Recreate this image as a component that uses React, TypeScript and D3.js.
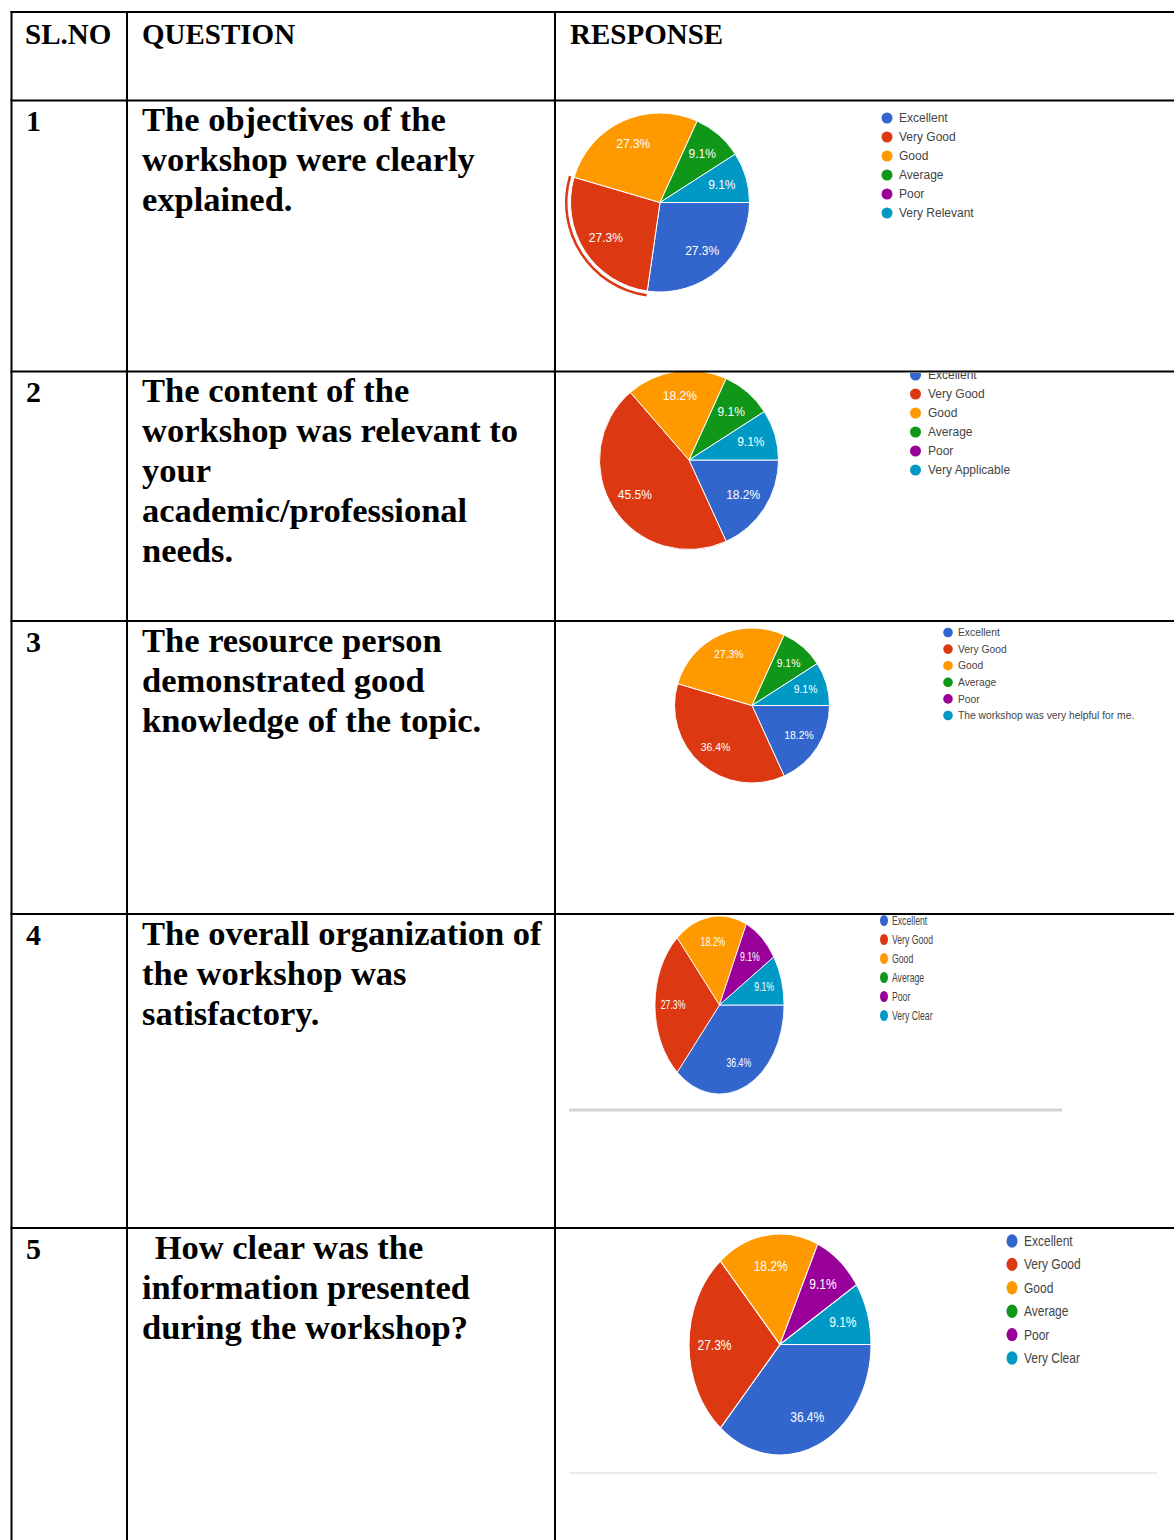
import React from 'react';
import * as d3 from 'd3';

// Table text
const headers = ['SL.NO', 'QUESTION', 'RESPONSE'];
const serialNumbers = ['1', '2', '3', '4', '5'];
const questionLines = [
  ['The objectives of the', 'workshop were clearly', 'explained.'],
  ['The content of the', 'workshop was relevant to', 'your', 'academic/professional', 'needs.'],
  ['The resource person', 'demonstrated good', 'knowledge of the topic.'],
  ['The overall organization of', 'the workshop was', 'satisfactory.'],
  [' How clear was the', 'information presented', 'during the workshop?'],
];

// Pie data (percent of responses)
const ratingCategories = ['Excellent', 'Very Good', 'Good', 'Average', 'Poor'];
const lastCategories = [
  'Very Relevant',
  'Very Applicable',
  'The workshop was very helpful for me.',
  'Very Clear',
  'Very Clear',
];
const q1Values = [27.3, 27.3, 27.3, 9.1, 0, 9.1];
const q2Values = [18.2, 45.5, 18.2, 9.1, 0, 9.1];
const q3Values = [18.2, 36.4, 27.3, 9.1, 0, 9.1];
const q4Values = [36.4, 27.3, 18.2, 0, 9.1, 9.1];
const q5Values = [36.4, 27.3, 18.2, 0, 9.1, 9.1];
const allValues = [q1Values, q2Values, q3Values, q4Values, q5Values];

const sliceColors = ['#3366cc', '#dc3912', '#ff9900', '#109618', '#990099', '#0099c6'];

// Layout
const W = 1174;
const H = 1540;
const colX = [11.5, 127, 555];
const rowY = [12, 100.5, 371.5, 621, 914, 1228];
const textBaselines = [131, 402, 652, 945, 1259];

const pieLayouts = [
  { cx: 660, cy: 202.5, r: 89.5, sx: 1, sy: 1, font: 12, lx: 887, ly: 118, step: 19, dotR: 5.5, gap: 12, lfont: 12, highlight: 1 },
  { cx: 689, cy: 460, r: 89.5, sx: 1, sy: 1, font: 12, lx: 915.5, ly: 375, step: 19, dotR: 5.5, gap: 12.5, lfont: 12, highlight: -1 },
  { cx: 752, cy: 705.5, r: 77.5, sx: 1, sy: 1, font: 10.4, lx: 948, ly: 632.5, step: 16.6, dotR: 4.8, gap: 10, lfont: 10.3, highlight: -1 },
  { cx: 719.5, cy: 1005, r: 89, sx: 0.725, sy: 1, font: 12, lx: 884, ly: 920.5, step: 19, dotR: 5.5, gap: 11, lfont: 12, highlight: -1 },
  { cx: 780, cy: 1344.5, r: 91, sx: 1, sy: 1.214, font: 12, lx: 1012, ly: 1241, step: 23.4, dotR: 5.5, gap: 12, lfont: 12, highlight: -1 },
];

const serif = '"Liberation Serif", "Times New Roman", serif';
const sans = '"Liberation Sans", Arial, sans-serif';

function PieChart({ values, index }: { values: number[]; index: number }) {
  const L = pieLayouts[index];
  const pie = d3
    .pie<number>()
    .sort(null)
    .value((d) => d)
    .startAngle(Math.PI / 2)
    .endAngle(Math.PI / 2 + Math.PI * 2);
  const arcs = pie(values);
  const arc = d3.arc<d3.PieArcDatum<number>>().innerRadius(0).outerRadius(L.r);
  const labelArc = d3
    .arc<d3.PieArcDatum<number>>()
    .innerRadius(L.r * 0.72)
    .outerRadius(L.r * 0.72);
  const ringArc = d3
    .arc<d3.PieArcDatum<number>>()
    .innerRadius(L.r + 3)
    .outerRadius(L.r + 5.5);
  const labels = [...ratingCategories, lastCategories[index]];
  const legendStep = L.step / L.sy;

  return (
    <g>
      <g transform={`translate(${L.cx},${L.cy}) scale(${L.sx},${L.sy})`}>
        {arcs.map((a, i) =>
          a.data > 0 ? (
            <path key={i} d={arc(a) || ''} fill={sliceColors[i]} stroke="#fff" strokeWidth={1} />
          ) : null
        )}
        {L.highlight >= 0 && (
          <path d={ringArc(arcs[L.highlight]) || ''} fill={sliceColors[L.highlight]} />
        )}
        {arcs.map((a, i) => {
          if (a.data <= 0) return null;
          const [x, y] = labelArc.centroid(a);
          return (
            <text
              key={i}
              x={x}
              y={y}
              dy="0.35em"
              textAnchor="middle"
              fill="#fff"
              fontFamily={sans}
              fontSize={L.font}
            >
              {`${a.data.toFixed(1)}%`}
            </text>
          );
        })}
      </g>
      <g
        transform={`translate(${L.lx},${L.ly}) scale(${L.sx},${L.sy})`}
        clipPath={index === 1 ? 'url(#clipRow2)' : undefined}
      >
        {labels.map((lab, i) => (
          <g key={i} transform={`translate(0,${i * legendStep})`}>
            <circle r={L.dotR} fill={sliceColors[i]} />
            <text x={L.gap} dy="0.35em" fill="#444" fontFamily={sans} fontSize={L.lfont}>
              {lab}
            </text>
          </g>
        ))}
      </g>
    </g>
  );
}

export default function App() {
  return (
    <div style={{ position: 'absolute', left: 0, top: 0 }}>
      <svg width={W} height={H} style={{ display: 'block', background: '#fff' }}>
        <defs>
          <clipPath id="clipRow2">
            <rect x={-60} y={-2} width={400} height={200} />
          </clipPath>
        </defs>

        {allValues.map((vals, i) => (
          <PieChart key={i} values={vals} index={i} />
        ))}

        {/* grey separators under charts 4 and 5 */}
        <rect x={569} y={1108.5} width={493} height={3} fill="#d4d4d4" />
        <rect x={569} y={1472.5} width={588} height={1} fill="#d8d8d8" />

        {/* table grid */}
        <g stroke="#000" strokeWidth={2}>
          {rowY.map((y, i) => (
            <line key={`h${i}`} x1={colX[0] - 1} x2={W} y1={y} y2={y} />
          ))}
          {colX.map((x, i) => (
            <line key={`v${i}`} x1={x} x2={x} y1={rowY[0] - 1} y2={H} />
          ))}
        </g>

        {/* headers */}
        <g fontFamily={serif} fontWeight="bold" fontSize={29} fill="#000">
          <text x={25} y={44}>{headers[0]}</text>
          <text x={142} y={44}>{headers[1]}</text>
          <text x={570} y={44}>{headers[2]}</text>
        </g>

        {/* rows */}
        <g fontFamily={serif} fontWeight="bold" fill="#000">
          {serialNumbers.map((n, i) => (
            <text key={`n${i}`} x={26} y={textBaselines[i]} fontSize={30}>
              {n}
            </text>
          ))}
          {questionLines.map((lines, i) =>
            lines.map((line, j) => (
              <text
                key={`q${i}-${j}`}
                x={line.startsWith(' ') ? 146 : 142}
                y={textBaselines[i] + j * 40}
                fontSize={34.5}
                style={{ whiteSpace: 'pre' }}
              >
                {line}
              </text>
            ))
          )}
        </g>
      </svg>
    </div>
  );
}
